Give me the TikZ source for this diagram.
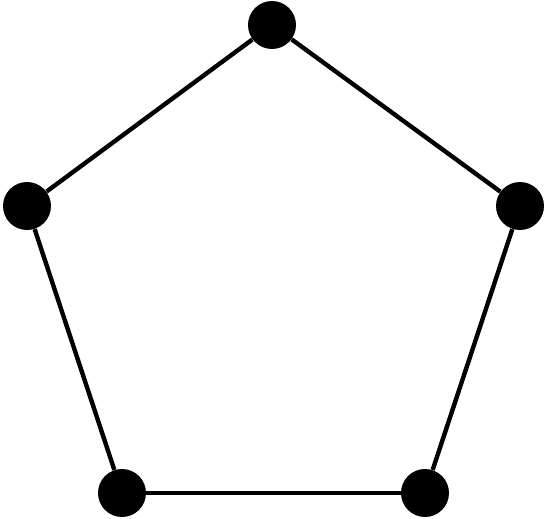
\documentclass[tikz,border=0pt]{standalone}
\usepackage{tikz}

\begin{document}
\begin{tikzpicture}[x = 0.02cm, y = -0.02cm]
  \useasboundingbox (0,0) rectangle (545,518);

  \tikzset{dot/.style = {circle, fill = black, inner sep = 0pt, minimum size = 0.96cm}}

  \foreach \n \x \y in {
    t/272/25,
    r/520/206,
    br/425/493,
    bl/122/493,
    l/27/206}{
      \node[dot] (\n) at (\x,\y) {};
    }

 % draw the sides
  \foreach \a \b in {t/r, r/br, br/bl, bl/l, l/t}
    {\draw[line width = 2.5pt] (\a) -- (\b);
    }

\end{tikzpicture}
\end{document}
